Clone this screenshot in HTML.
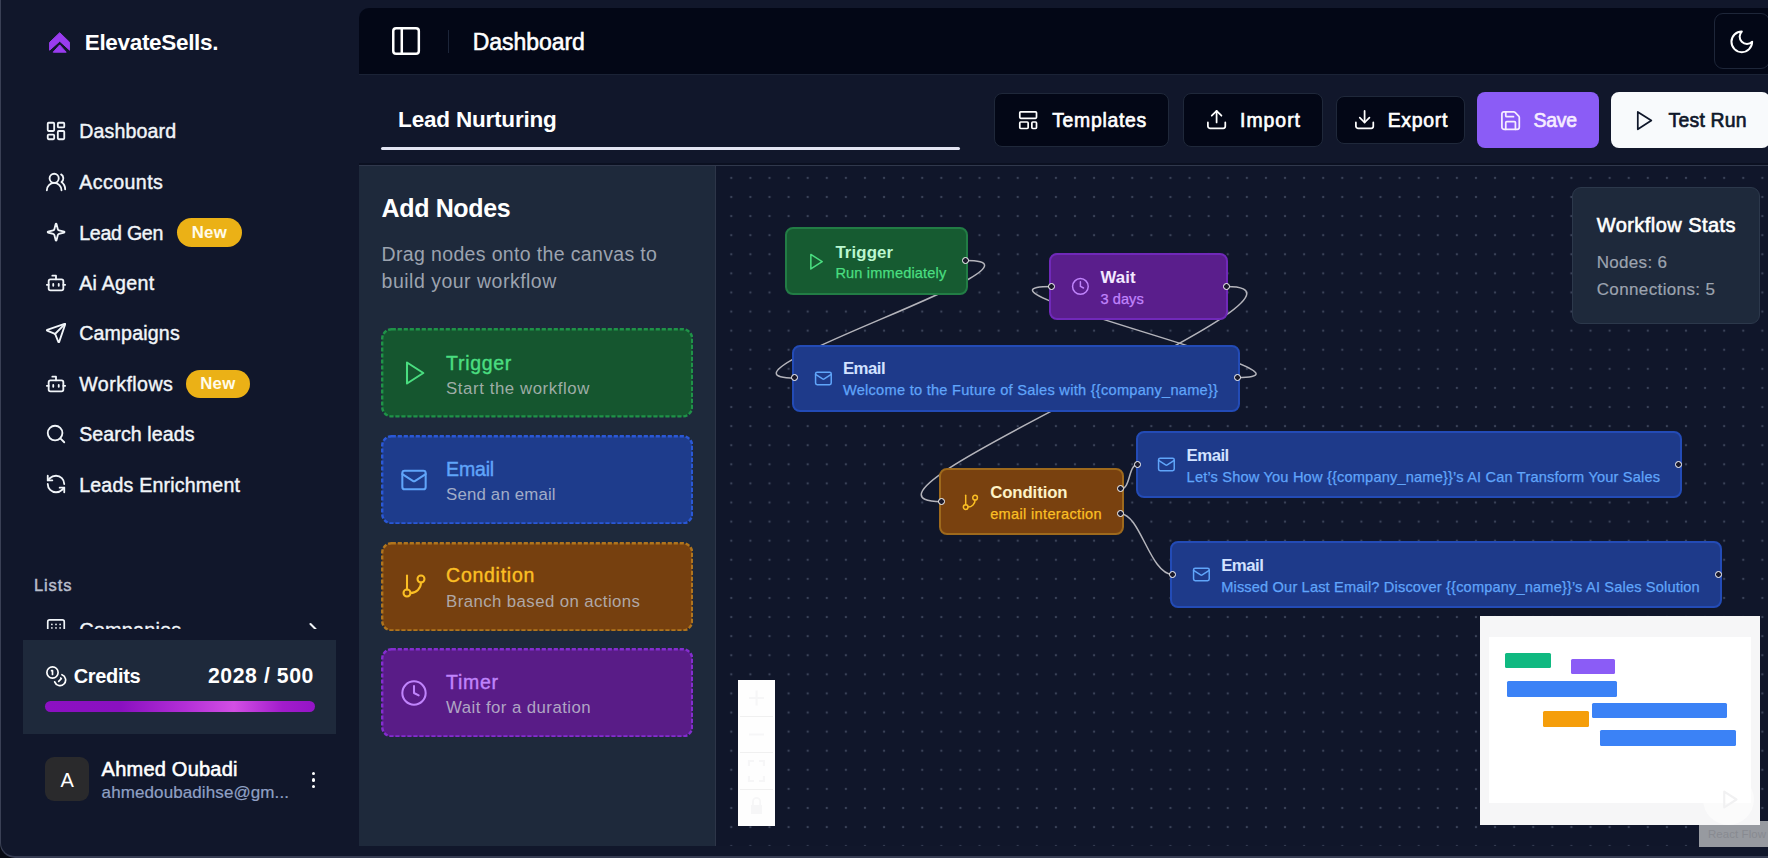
<!DOCTYPE html>
<html><head><meta charset="utf-8"><title>ElevateSells</title>
<style>
html,body{margin:0;padding:0;overflow:hidden}
body{width:1768px;height:858px;overflow:hidden;background:#070a13;font-family:"Liberation Sans", sans-serif;position:relative}
.a{position:absolute}
.t{white-space:pre}
.node{position:absolute;box-sizing:border-box;border-radius:8px;border:2px solid}
.h{position:absolute;width:5px;height:5px;border-radius:50%;background:#1a192b;border:1.6px solid #fff;box-sizing:content-box}
.card{position:absolute;box-sizing:border-box;left:380.8px;width:312.2px;height:88.8px;border-radius:10px;border:2px dashed}
.btn{position:absolute;box-sizing:border-box;border-radius:8px}
</style></head><body>
<div class="a" style="left:0;top:-20px;width:1808px;height:878px;border:1.5px solid #3a4055;border-bottom:2.2px solid #363c52;border-radius:15px;box-sizing:border-box;background:#11172b"></div>
<div class="a" style="left:358.6px;top:8px;width:1500px;height:838.2px;border-radius:10px 0 0 0;background:#11172b;overflow:hidden">
<div class="a" style="left:0;top:0;width:1500px;height:66px;background:#030716;border-bottom:1px solid #1b2336"></div>
<div class="a" style="left:0;top:155.4px;width:1500px;height:1.4px;background:#0b1021"></div>
<div class="a" style="left:0;top:158px;width:356px;height:690px;background:#1e293b;border-right:2px solid #2d3548"></div>
<div class="a" style="left:357.8px;top:158px;width:1200px;height:690px;background-color:#10162a;background-image:radial-gradient(circle,#3a4258 0.7px,transparent 1.6px);background-size:19.1px 19.1px;background-position:5.75px 2.35px"></div>
<div class="a" style="left:0;top:156.8px;width:1500px;height:1.6px;background:#30384c"></div>
</div>
<svg class="a" style="left:48.8px;top:31.6px" width="21.4" height="21.6" viewBox="0 0 21.4 21.6"><path d="M10.7 0.7 L20.7 10.4 L20.7 18.2 L10.7 9.2 L0.6 18.2 L0.6 10.4 Z" fill="#9a3cf0" stroke="#9a3cf0" stroke-width="1" stroke-linejoin="round"/><path d="M10.7 12.9 L17.2 20.2 L4.2 20.2 Z" fill="#9a3cf0" stroke="#9a3cf0" stroke-width="1" stroke-linejoin="round"/></svg>
<svg class="a" style="left:45.20px;top:120.20px;" width="22.00" height="22.00" viewBox="0 0 24 24" fill="none" stroke="#f1f5f9" stroke-width="2.0" stroke-linecap="round" stroke-linejoin="round"><rect width="7" height="9" x="3" y="3" rx="1"/><rect width="7" height="5" x="14" y="3" rx="1"/><rect width="7" height="9" x="14" y="12" rx="1"/><rect width="7" height="5" x="3" y="16" rx="1"/></svg>
<svg class="a" style="left:45.20px;top:170.70px;" width="22.00" height="22.00" viewBox="0 0 24 24" fill="none" stroke="#f1f5f9" stroke-width="2.0" stroke-linecap="round" stroke-linejoin="round"><path d="M18 21a8 8 0 0 0-16 0"/><circle cx="10" cy="8" r="5"/><path d="M22 20c0-3.37-2-6.5-4-8a5 5 0 0 0-.45-8.3"/></svg>
<svg class="a" style="left:46.10px;top:222.30px;" width="20.20" height="20.20" viewBox="0 0 24 24" fill="none" stroke="#f1f5f9" stroke-width="2.1782178217821784" stroke-linecap="round" stroke-linejoin="round"><path d="M9.937 15.5A2 2 0 0 0 8.5 14.063l-6.135-1.582a.5.5 0 0 1 0-.962L8.5 9.936A2 2 0 0 0 9.937 8.5l1.582-6.135a.5.5 0 0 1 .963 0L14.063 8.5A2 2 0 0 0 15.5 9.937l6.135 1.581a.5.5 0 0 1 0 .964L15.5 14.063a2 2 0 0 0-1.437 1.437l-1.582 6.135a.5.5 0 0 1-.963 0z"/></svg>
<svg class="a" style="left:45.20px;top:272.00px;" width="22.00" height="22.00" viewBox="0 0 24 24" fill="none" stroke="#f1f5f9" stroke-width="2.0" stroke-linecap="round" stroke-linejoin="round"><path d="M12 8V4H8"/><rect width="16" height="12" x="4" y="8" rx="2"/><path d="M2 14h2"/><path d="M20 14h2"/><path d="M15 13v2"/><path d="M9 13v2"/></svg>
<svg class="a" style="left:45.20px;top:322.30px;" width="22.00" height="22.00" viewBox="0 0 24 24" fill="none" stroke="#f1f5f9" stroke-width="2.0" stroke-linecap="round" stroke-linejoin="round"><path d="M14.536 21.686a.5.5 0 0 0 .937-.024l6.5-19a.496.496 0 0 0-.635-.635l-19 6.5a.5.5 0 0 0-.024.937l7.93 3.18a2 2 0 0 1 1.112 1.11z"/><path d="m21.854 2.147-10.94 10.939"/></svg>
<svg class="a" style="left:45.20px;top:372.70px;" width="22.00" height="22.00" viewBox="0 0 24 24" fill="none" stroke="#f1f5f9" stroke-width="2.0" stroke-linecap="round" stroke-linejoin="round"><path d="M12 8V4H8"/><rect width="16" height="12" x="4" y="8" rx="2"/><path d="M2 14h2"/><path d="M20 14h2"/><path d="M15 13v2"/><path d="M9 13v2"/></svg>
<svg class="a" style="left:45.20px;top:422.90px;" width="22.00" height="22.00" viewBox="0 0 24 24" fill="none" stroke="#f1f5f9" stroke-width="2.0" stroke-linecap="round" stroke-linejoin="round"><circle cx="11" cy="11" r="8"/><path d="m21 21-4.3-4.3"/></svg>
<svg class="a" style="left:45.20px;top:473.40px;" width="22.00" height="22.00" viewBox="0 0 24 24" fill="none" stroke="#f1f5f9" stroke-width="2.0" stroke-linecap="round" stroke-linejoin="round"><path d="M21 12a9 9 0 0 0-9-9 9.75 9.75 0 0 0-6.74 2.74L3 8"/><path d="M3 3v5h5"/><path d="M3 12a9 9 0 0 0 9 9 9.75 9.75 0 0 0 6.74-2.74L21 16"/><path d="M16 16h5v5"/></svg>
<div class="a" style="left:177.0px;top:218.4px;width:64.9px;height:28.4px;border-radius:15px;background:#ebb116"></div>
<div class="a" style="left:185.5px;top:369.5px;width:64.6px;height:28.4px;border-radius:15px;background:#ebb116"></div>
<div class="a" style="left:0;top:599px;width:340px;height:29.8px;overflow:hidden">
<svg class="a" style="left:302.50px;top:20.00px;" width="20.00" height="20.00" viewBox="0 0 24 24" fill="none" stroke="#f1f5f9" stroke-width="2.5" stroke-linecap="round" stroke-linejoin="round"><path d="m9 18 6-6-6-6"/></svg>
<svg class="a" style="left:45.2px;top:18.8px" width="22" height="22" viewBox="0 0 24 24" fill="none" stroke="#f1f5f9" stroke-width="1.85" stroke-linecap="round"><rect x="3" y="2" width="18" height="20" rx="2"/><path d="M7.5 7h.01M12 7h.01M16.5 7h.01M7.5 10.8h.01M12 10.8h.01M16.5 10.8h.01"/></svg>
<div class="a t" style="left:79.2px;top:17.6px;font-size:20px;line-height:26px;color:#f1f5f9;letter-spacing:0.1px;-webkit-text-stroke:0.3px #f1f5f9">Companies</div>
</div>
<div class="a" style="left:22.8px;top:640px;width:313px;height:94.4px;background:#1e293b"></div>
<svg class="a" style="left:44.60px;top:664.60px;" width="22.50" height="22.50" viewBox="0 0 24 24" fill="none" stroke="#ffffff" stroke-width="1.8" stroke-linecap="round" stroke-linejoin="round"><circle cx="8" cy="8" r="6"/><path d="M18.09 10.37A6 6 0 1 1 10.34 18"/><path d="M7 6h1v4"/><path d="m16.71 13.88.7.71-2.82 2.82"/></svg>
<div class="a" style="left:44.5px;top:701.3px;width:270px;height:11.2px;border-radius:6px;background:linear-gradient(90deg,#8c10c2 0%,#8a10c0 28%,#b32fd6 52%,#d24fe4 70%,#a21ccc 88%,#9414c6 100%)"></div>
<div class="a" style="left:45.1px;top:757.2px;width:44.2px;height:43.8px;border-radius:9px;background:#2a2a2c"></div>
<div class="a" style="left:311.7px;top:771.5px;width:3.8px;height:3.8px;border-radius:50%;background:#fff"></div>
<div class="a" style="left:311.7px;top:778.1px;width:3.8px;height:3.8px;border-radius:50%;background:#fff"></div>
<div class="a" style="left:311.7px;top:784.7px;width:3.8px;height:3.8px;border-radius:50%;background:#fff"></div>
<svg class="a" style="left:389.10px;top:23.75px;" width="34.10" height="34.10" viewBox="0 0 24 24" fill="none" stroke="#ffffff" stroke-width="1.75" stroke-linecap="round" stroke-linejoin="round"><rect width="18" height="18" x="3" y="3" rx="2"/><path d="M9 3v18"/></svg>
<div class="a" style="left:448px;top:29.6px;width:1.2px;height:23px;background:#1c2539"></div>
<div class="btn" style="left:1713.6px;top:13.2px;width:56.4px;height:55.4px;border-radius:9px;border:1.6px solid #1e2639;background:#030716"></div>
<svg class="a" style="left:1728.00px;top:27.60px;" width="27.60" height="27.60" viewBox="0 0 24 24" fill="none" stroke="#ffffff" stroke-width="1.75" stroke-linecap="round" stroke-linejoin="round"><path d="M12 3a6 6 0 0 0 9 9 9 9 0 1 1-9-9Z"/></svg>
<div class="a" style="left:380.6px;top:146.5px;width:579.4px;height:3.6px;background:#e2e4f2;border-radius:2px"></div>
<div class="btn" style="left:994.3px;top:93.3px;width:175.0px;height:53.7px;background:#030716;border:1.3px solid #1f283a"></div>
<div class="btn" style="left:1183.0px;top:93.3px;width:139.7px;height:53.7px;background:#030716;border:1.3px solid #1f283a"></div>
<div class="btn" style="left:1335.5px;top:95.7px;width:129.1px;height:48.6px;background:#030716;border:1.3px solid #1f283a"></div>
<div class="btn" style="left:1477.1px;top:92.2px;width:122.1px;height:56.2px;background:#8b5cf6"></div>
<div class="btn" style="left:1610.7px;top:91.9px;width:159.6px;height:56.6px;background:#f8fafc"></div>
<svg class="a" style="left:1016.95px;top:109.05px;" width="22.30" height="22.30" viewBox="0 0 24 24" fill="none" stroke="#ffffff" stroke-width="1.85" stroke-linecap="round" stroke-linejoin="round"><rect width="18" height="7" x="3" y="3" rx="1"/><rect width="9" height="7" x="3" y="14" rx="1"/><rect width="5" height="7" x="16" y="14" rx="1"/></svg>
<svg class="a" style="left:1204.90px;top:108.40px;" width="23.20" height="23.20" viewBox="0 0 24 24" fill="none" stroke="#ffffff" stroke-width="1.8" stroke-linecap="round" stroke-linejoin="round"><path d="M21 15v4a2 2 0 0 1-2 2H5a2 2 0 0 1-2-2v-4"/><polyline points="17 8 12 3 7 8"/><line x1="12" x2="12" y1="3" y2="15"/></svg>
<svg class="a" style="left:1352.50px;top:108.40px;" width="23.20" height="23.20" viewBox="0 0 24 24" fill="none" stroke="#ffffff" stroke-width="1.8" stroke-linecap="round" stroke-linejoin="round"><path d="M21 15v4a2 2 0 0 1-2 2H5a2 2 0 0 1-2-2v-4"/><polyline points="7 10 12 15 17 10"/><line x1="12" x2="12" y1="15" y2="3"/></svg>
<svg class="a" style="left:1498.90px;top:108.60px;" width="23.20" height="23.20" viewBox="0 0 24 24" fill="none" stroke="#f6ecff" stroke-width="1.8" stroke-linecap="round" stroke-linejoin="round"><path d="M15.2 3a2 2 0 0 1 1.4.6l3.8 3.8a2 2 0 0 1 .6 1.4V19a2 2 0 0 1-2 2H5a2 2 0 0 1-2-2V5a2 2 0 0 1 2-2z"/><path d="M17 21v-7a1 1 0 0 0-1-1H8a1 1 0 0 0-1 1v7"/><path d="M7 3v4a1 1 0 0 0 1 1h7"/></svg>
<svg class="a" style="left:1631.60px;top:108.60px;" width="23.20" height="23.20" viewBox="0 0 24 24" fill="none" stroke="#0f172a" stroke-width="1.8" stroke-linecap="round" stroke-linejoin="round"><polygon points="6 3 20 12 6 21 6 3"/></svg>
<svg class="a" style="left:380.7px;top:328.4px" width="312.4" height="89.6"><rect x="1.2" y="1.2" width="310.0" height="87.2" rx="9.5" fill="#15562f" stroke="#1f9348" stroke-width="2.4" stroke-dasharray="4.2 1.8"/></svg>
<svg class="a" style="left:400.00px;top:359.20px;" width="28.00" height="28.00" viewBox="0 0 24 24" fill="none" stroke="#4ade80" stroke-width="1.75" stroke-linecap="round" stroke-linejoin="round"><polygon points="6 3 20 12 6 21 6 3"/></svg>
<svg class="a" style="left:380.7px;top:434.9px" width="312.4" height="89.6"><rect x="1.2" y="1.2" width="310.0" height="87.2" rx="9.5" fill="#1e3c8c" stroke="#2a58d6" stroke-width="2.4" stroke-dasharray="4.2 1.8"/></svg>
<svg class="a" style="left:400.00px;top:465.70px;" width="28.00" height="28.00" viewBox="0 0 24 24" fill="none" stroke="#60a5fa" stroke-width="1.75" stroke-linecap="round" stroke-linejoin="round"><rect width="20" height="16" x="2" y="4" rx="2"/><path d="m22 7-8.97 5.7a1.94 1.94 0 0 1-2.06 0L2 7"/></svg>
<svg class="a" style="left:380.7px;top:541.5px" width="312.4" height="89.6"><rect x="1.2" y="1.2" width="310.0" height="87.2" rx="9.5" fill="#76400f" stroke="#b0741d" stroke-width="2.4" stroke-dasharray="4.2 1.8"/></svg>
<svg class="a" style="left:400.00px;top:572.30px;" width="28.00" height="28.00" viewBox="0 0 24 24" fill="none" stroke="#fbbf24" stroke-width="1.75" stroke-linecap="round" stroke-linejoin="round"><line x1="6" x2="6" y1="3" y2="15"/><circle cx="18" cy="6" r="3"/><circle cx="6" cy="18" r="3"/><path d="M18 9a9 9 0 0 1-9 9"/></svg>
<svg class="a" style="left:380.7px;top:647.9px" width="312.4" height="89.6"><rect x="1.2" y="1.2" width="310.0" height="87.2" rx="9.5" fill="#591c87" stroke="#842dcf" stroke-width="2.4" stroke-dasharray="4.2 1.8"/></svg>
<svg class="a" style="left:400.00px;top:678.70px;" width="28.00" height="28.00" viewBox="0 0 24 24" fill="none" stroke="#c084fc" stroke-width="1.75" stroke-linecap="round" stroke-linejoin="round"><circle cx="12" cy="12" r="10"/><polyline points="12 6 12 12 16 14"/></svg>
<svg class="a" style="left:0;top:0" width="1768" height="858" viewBox="0 0 1768 858" fill="none" stroke="#b4b4bb" stroke-width="1.5">
<path d="M965.5 260.5 C1072.5 260.5 689.7 378.0 794.7 378.0"/>
<path d="M1237.3 377.6 C1346.3 377.6 940.9000000000001 286.5 1051.9 286.5"/>
<path d="M1226.3 286.5 C1357.3 286.5 810.7 501.7 941.7 501.7"/>
<path d="M1120.9 488.9 C1130.9 488.9 1127.9 464.6 1137.9 464.6"/>
<path d="M1120.9 513.9 C1139.9 513.9 1150.4 574.4 1172.4 574.4"/>
</svg>
<div class="node" style="left:784.7px;top:227.0px;width:183.2px;height:67.6px;background:#165b31;border-color:#227d45"></div>
<div class="node" style="left:1049.3px;top:253.0px;width:179.2px;height:66.7px;background:#5a1e8c;border-color:#7029b9"></div>
<div class="node" style="left:791.8px;top:344.5px;width:448.1px;height:67.2px;background:#1e3a8a;border-color:#234bb6"></div>
<div class="node" style="left:939.1px;top:468.2px;width:184.7px;height:67.2px;background:#79410f;border-color:#9e691c"></div>
<div class="node" style="left:1135.6px;top:431.3px;width:546.2px;height:66.5px;background:#1e3a8a;border-color:#234bb6"></div>
<div class="node" style="left:1170.2px;top:541.3px;width:552.2px;height:66.4px;background:#1e3a8a;border-color:#234bb6"></div>
<svg class="a" style="left:805.70px;top:251.60px;" width="19.40" height="19.40" viewBox="0 0 24 24" fill="none" stroke="#4ade80" stroke-width="1.9" stroke-linecap="round" stroke-linejoin="round"><polygon points="6 3 20 12 6 21 6 3"/></svg>
<svg class="a" style="left:1070.80px;top:277.30px;" width="18.80" height="18.80" viewBox="0 0 24 24" fill="none" stroke="#c084fc" stroke-width="1.9" stroke-linecap="round" stroke-linejoin="round"><circle cx="12" cy="12" r="10"/><polyline points="12 6 12 12 16 14"/></svg>
<svg class="a" style="left:814.00px;top:369.00px;" width="18.80" height="18.80" viewBox="0 0 24 24" fill="none" stroke="#60a5fa" stroke-width="1.9" stroke-linecap="round" stroke-linejoin="round"><rect width="20" height="16" x="2" y="4" rx="2"/><path d="m22 7-8.97 5.7a1.94 1.94 0 0 1-2.06 0L2 7"/></svg>
<svg class="a" style="left:960.80px;top:492.60px;" width="18.80" height="18.80" viewBox="0 0 24 24" fill="none" stroke="#fbbf24" stroke-width="1.9" stroke-linecap="round" stroke-linejoin="round"><line x1="6" x2="6" y1="3" y2="15"/><circle cx="18" cy="6" r="3"/><circle cx="6" cy="18" r="3"/><path d="M18 9a9 9 0 0 1-9 9"/></svg>
<svg class="a" style="left:1157.40px;top:455.20px;" width="18.80" height="18.80" viewBox="0 0 24 24" fill="none" stroke="#60a5fa" stroke-width="1.9" stroke-linecap="round" stroke-linejoin="round"><rect width="20" height="16" x="2" y="4" rx="2"/><path d="m22 7-8.97 5.7a1.94 1.94 0 0 1-2.06 0L2 7"/></svg>
<svg class="a" style="left:1192.00px;top:565.40px;" width="18.80" height="18.80" viewBox="0 0 24 24" fill="none" stroke="#60a5fa" stroke-width="1.9" stroke-linecap="round" stroke-linejoin="round"><rect width="20" height="16" x="2" y="4" rx="2"/><path d="m22 7-8.97 5.7a1.94 1.94 0 0 1-2.06 0L2 7"/></svg>
<div class="h" style="left:961.7px;top:256.7px"></div>
<div class="h" style="left:1048.1px;top:282.7px"></div>
<div class="h" style="left:1222.5px;top:282.7px"></div>
<div class="h" style="left:790.9px;top:374.2px"></div>
<div class="h" style="left:1233.5px;top:373.8px"></div>
<div class="h" style="left:937.9px;top:497.9px"></div>
<div class="h" style="left:1117.1px;top:485.1px"></div>
<div class="h" style="left:1117.1px;top:510.1px"></div>
<div class="h" style="left:1134.1px;top:460.8px"></div>
<div class="h" style="left:1675.4px;top:460.6px"></div>
<div class="h" style="left:1168.6px;top:570.6px"></div>
<div class="h" style="left:1715.3px;top:570.7px"></div>
<div class="a" style="left:1572.4px;top:187.4px;width:187.4px;height:136.2px;box-sizing:border-box;border-radius:9px;background:#1e293b;border:1.3px solid #2c384b"></div>
<div class="a" style="left:737.6px;top:679.9px;width:37.2px;height:146.2px;background:#fefefe"><div class="a" style="left:2px;right:2px;top:36px;height:1px;background:#f0f0f0"></div><div class="a" style="left:2px;right:2px;top:72.5px;height:1px;background:#f0f0f0"></div><div class="a" style="left:2px;right:2px;top:109px;height:1px;background:#f0f0f0"></div><svg class="a" style="left:0;top:0" width="37.2" height="146.2" viewBox="0 0 37.2 146.2" fill="none" stroke="#f6f6f7" stroke-width="2.2"><path d="M11 18h15M18.6 10.5v15M11 54.5h15M11 86v-5h5M26 86v-5h-5M11 96v5h5M26 96v5h-5"/><rect x="13" y="125" width="11" height="9" fill="#f6f6f7" stroke="none"/><path d="M15 125v-3.5a3.6 3.6 0 0 1 7.2 0V125" stroke-width="1.8"/></svg></div>
<div class="a" style="left:1699px;top:821.2px;width:80px;height:25.4px;background:#979aa0"></div>
<div class="a" style="left:1479.7px;top:615.6px;width:280.2px;height:209.6px;background:#f6f6f7"></div>
<div class="a" style="left:1489px;top:636.9px;width:262px;height:166.4px;background:#ffffff"></div>
<div class="a" style="left:1505.3px;top:652.5px;width:45.3px;height:15.6px;background:#10b981;border-radius:1.5px"></div>
<div class="a" style="left:1570.9px;top:658.7px;width:44.0px;height:15.6px;background:#8b5cf6;border-radius:1.5px"></div>
<div class="a" style="left:1507.2px;top:681.2px;width:110.2px;height:15.6px;background:#3b82f6;border-radius:1.5px"></div>
<div class="a" style="left:1543.4px;top:711.2px;width:45.6px;height:16.3px;background:#f59e0b;border-radius:1.5px"></div>
<div class="a" style="left:1591.8px;top:702.5px;width:135.3px;height:15.9px;background:#3b82f6;border-radius:1.5px"></div>
<div class="a" style="left:1600.2px;top:729.6px;width:136.3px;height:16.0px;background:#3b82f6;border-radius:1.5px"></div>
<div class="a" style="left:1703px;top:773.5px;width:51px;height:51px;border-radius:50%;background:rgba(255,255,255,0.5)"></div>
<svg class="a" style="left:1719px;top:788.5px" width="21" height="21" viewBox="0 0 24 24" fill="none" stroke="#f1f1f2" stroke-width="2.4" stroke-linejoin="round"><polygon points="6 3 20 12 6 21 6 3"/></svg>
<div class="a t" style="font-size:22.5px;font-weight:700;color:#ffffff;line-height:29px;top:27.80px;left:84.70px;letter-spacing:-0.316px;">ElevateSells.</div>
<div class="a t" style="font-size:19.6px;font-weight:400;color:#f1f5f9;line-height:25px;top:119.30px;-webkit-text-stroke:0.42px #f1f5f9;left:79.20px;letter-spacing:0.143px;">Dashboard</div>
<div class="a t" style="font-size:19.6px;font-weight:400;color:#f1f5f9;line-height:25px;top:169.80px;-webkit-text-stroke:0.42px #f1f5f9;left:79.20px;letter-spacing:0.442px;">Accounts</div>
<div class="a t" style="font-size:19.6px;font-weight:400;color:#f1f5f9;line-height:25px;top:220.50px;-webkit-text-stroke:0.42px #f1f5f9;left:79.20px;letter-spacing:-0.268px;">Lead Gen</div>
<div class="a t" style="font-size:19.6px;font-weight:400;color:#f1f5f9;line-height:25px;top:271.10px;-webkit-text-stroke:0.42px #f1f5f9;left:79.20px;letter-spacing:0.271px;">Ai Agent</div>
<div class="a t" style="font-size:19.6px;font-weight:400;color:#f1f5f9;line-height:25px;top:321.40px;-webkit-text-stroke:0.42px #f1f5f9;left:79.20px;letter-spacing:0.174px;">Campaigns</div>
<div class="a t" style="font-size:19.6px;font-weight:400;color:#f1f5f9;line-height:25px;top:371.80px;-webkit-text-stroke:0.42px #f1f5f9;left:79.20px;letter-spacing:0.463px;">Workflows</div>
<div class="a t" style="font-size:19.6px;font-weight:400;color:#f1f5f9;line-height:25px;top:422.00px;-webkit-text-stroke:0.42px #f1f5f9;left:79.20px;letter-spacing:0.084px;">Search leads</div>
<div class="a t" style="font-size:19.6px;font-weight:400;color:#f1f5f9;line-height:25px;top:472.50px;-webkit-text-stroke:0.42px #f1f5f9;left:79.20px;letter-spacing:0.191px;">Leads Enrichment</div>
<div class="a t" style="font-size:16.8px;font-weight:700;color:#fffbea;line-height:22px;top:222.30px;left:191.70px;letter-spacing:0.292px;">New</div>
<div class="a t" style="font-size:16.8px;font-weight:700;color:#fffbea;line-height:22px;top:373.40px;left:200.20px;letter-spacing:0.292px;">New</div>
<div class="a t" style="font-size:16.5px;font-weight:400;color:#b9bfcc;line-height:21px;top:574.80px;-webkit-text-stroke:0.45px #b9bfcc;left:34.00px;letter-spacing:0.866px;">Lists</div>
<div class="a t" style="font-size:20px;font-weight:700;color:#ffffff;line-height:26px;top:663.00px;left:73.70px;letter-spacing:-0.318px;">Credits</div>
<div class="a t" style="font-size:21.2px;font-weight:700;color:#ffffff;line-height:28px;top:662.00px;left:208.00px;letter-spacing:0.572px;">2028 / 500</div>
<div class="a t" style="font-size:20px;font-weight:400;color:#ffffff;line-height:26px;top:756.30px;-webkit-text-stroke:0.55px #ffffff;left:101.60px;letter-spacing:0.225px;">Ahmed Oubadi</div>
<div class="a t" style="font-size:17px;font-weight:400;color:#8fa0c4;line-height:22px;top:782.20px;-webkit-text-stroke:0.2px #8fa0c4;left:101.60px;letter-spacing:0.101px;">ahmedoubadihse@gm...</div>
<div class="a t" style="font-size:20px;font-weight:400;color:#ffffff;line-height:26px;top:766.50px;left:60.53px;">A</div>
<div class="a t" style="font-size:23px;font-weight:400;color:#ffffff;line-height:30px;top:26.60px;-webkit-text-stroke:0.55px #ffffff;left:472.80px;letter-spacing:-0.066px;">Dashboard</div>
<div class="a t" style="font-size:22.5px;font-weight:700;color:#ffffff;line-height:29px;top:104.80px;left:398.10px;letter-spacing:-0.196px;">Lead Nurturing</div>
<div class="a t" style="font-size:19.4px;font-weight:400;color:#ffffff;line-height:25px;top:108.40px;-webkit-text-stroke:0.65px #ffffff;left:1052.20px;letter-spacing:0.703px;">Templates</div>
<div class="a t" style="font-size:19.4px;font-weight:400;color:#ffffff;line-height:25px;top:108.40px;-webkit-text-stroke:0.65px #ffffff;left:1240.00px;letter-spacing:1.009px;">Import</div>
<div class="a t" style="font-size:19.4px;font-weight:400;color:#ffffff;line-height:25px;top:108.40px;-webkit-text-stroke:0.65px #ffffff;left:1387.70px;letter-spacing:0.711px;">Export</div>
<div class="a t" style="font-size:19.4px;font-weight:400;color:#f6ecff;line-height:25px;top:108.40px;-webkit-text-stroke:0.65px #f6ecff;left:1533.50px;letter-spacing:-0.201px;">Save</div>
<div class="a t" style="font-size:19.4px;font-weight:400;color:#0f172a;line-height:25px;top:108.40px;-webkit-text-stroke:0.65px #0f172a;left:1668.60px;letter-spacing:0.210px;">Test Run</div>
<div class="a t" style="font-size:25px;font-weight:700;color:#ffffff;line-height:32px;top:192.20px;left:381.60px;letter-spacing:-0.369px;">Add Nodes</div>
<div class="a t" style="font-size:19.5px;font-weight:400;color:#9ca3af;line-height:25px;top:241.50px;left:381.60px;letter-spacing:0.347px;">Drag nodes onto the canvas to</div>
<div class="a t" style="font-size:19.5px;font-weight:400;color:#9ca3af;line-height:25px;top:268.90px;left:381.60px;letter-spacing:0.493px;">build your workflow</div>
<div class="a t" style="font-size:19.5px;font-weight:400;color:#4ade80;line-height:25px;top:350.50px;-webkit-text-stroke:0.4px #4ade80;left:446.10px;letter-spacing:0.676px;">Trigger</div>
<div class="a t" style="font-size:16.8px;font-weight:400;color:#9eada6;line-height:22px;top:377.90px;left:446.10px;letter-spacing:0.578px;">Start the workflow</div>
<div class="a t" style="font-size:19.5px;font-weight:400;color:#60a5fa;line-height:25px;top:456.90px;-webkit-text-stroke:0.4px #60a5fa;left:446.10px;letter-spacing:-0.166px;">Email</div>
<div class="a t" style="font-size:16.8px;font-weight:400;color:#a1acc8;line-height:22px;top:484.30px;left:446.10px;letter-spacing:0.184px;">Send an email</div>
<div class="a t" style="font-size:19.5px;font-weight:400;color:#fbbf24;line-height:25px;top:563.30px;-webkit-text-stroke:0.4px #fbbf24;left:446.10px;letter-spacing:0.726px;">Condition</div>
<div class="a t" style="font-size:16.8px;font-weight:400;color:#b0a8a6;line-height:22px;top:590.70px;left:446.10px;letter-spacing:0.417px;">Branch based on actions</div>
<div class="a t" style="font-size:19.5px;font-weight:400;color:#c084fc;line-height:25px;top:669.70px;-webkit-text-stroke:0.4px #c084fc;left:446.10px;letter-spacing:0.698px;">Timer</div>
<div class="a t" style="font-size:16.8px;font-weight:400;color:#b0a5c4;line-height:22px;top:697.10px;left:446.10px;letter-spacing:0.444px;">Wait for a duration</div>
<div class="a t" style="font-size:16.8px;font-weight:700;color:#bbf7d0;line-height:22px;top:241.50px;left:835.40px;letter-spacing:0.135px;">Trigger</div>
<div class="a t" style="font-size:14.6px;font-weight:400;color:#4ade80;line-height:19px;top:264.20px;-webkit-text-stroke:0.25px #4ade80;left:835.40px;letter-spacing:0.158px;">Run immediately</div>
<div class="a t" style="font-size:16.8px;font-weight:700;color:#f3e8ff;line-height:22px;top:266.60px;left:1100.40px;letter-spacing:0.129px;">Wait</div>
<div class="a t" style="font-size:14.6px;font-weight:400;color:#c084fc;line-height:19px;top:289.50px;-webkit-text-stroke:0.25px #c084fc;left:1100.40px;letter-spacing:0.080px;">3 days</div>
<div class="a t" style="font-size:16.8px;font-weight:700;color:#d2e2ff;line-height:22px;top:358.20px;left:842.90px;letter-spacing:-0.520px;">Email</div>
<div class="a t" style="font-size:14.6px;font-weight:400;color:#60a5fa;line-height:19px;top:381.10px;-webkit-text-stroke:0.25px #60a5fa;left:842.90px;letter-spacing:0.266px;">Welcome to the Future of Sales with {{company_name}}</div>
<div class="a t" style="font-size:16.8px;font-weight:700;color:#fef3c7;line-height:22px;top:482.40px;left:990.20px;letter-spacing:-0.112px;">Condition</div>
<div class="a t" style="font-size:14.6px;font-weight:400;color:#fbbf24;line-height:19px;top:505.20px;-webkit-text-stroke:0.25px #fbbf24;left:990.20px;letter-spacing:0.321px;">email interaction</div>
<div class="a t" style="font-size:16.8px;font-weight:700;color:#d2e2ff;line-height:22px;top:444.90px;left:1186.60px;letter-spacing:-0.520px;">Email</div>
<div class="a t" style="font-size:14.6px;font-weight:400;color:#60a5fa;line-height:19px;top:467.90px;-webkit-text-stroke:0.25px #60a5fa;left:1186.60px;letter-spacing:0.181px;">Let’s Show You How {{company_name}}’s AI Can Transform Your Sales</div>
<div class="a t" style="font-size:16.8px;font-weight:700;color:#d2e2ff;line-height:22px;top:554.90px;left:1221.20px;letter-spacing:-0.520px;">Email</div>
<div class="a t" style="font-size:14.6px;font-weight:400;color:#60a5fa;line-height:19px;top:577.90px;-webkit-text-stroke:0.25px #60a5fa;left:1221.20px;letter-spacing:0.160px;">Missed Our Last Email? Discover {{company_name}}’s AI Sales Solution</div>
<div class="a t" style="font-size:20px;font-weight:400;color:#ffffff;line-height:26px;top:212.30px;-webkit-text-stroke:0.6px #ffffff;left:1596.70px;letter-spacing:0.454px;">Workflow Stats</div>
<div class="a t" style="font-size:17px;font-weight:400;color:#9ca3af;line-height:22px;top:251.50px;-webkit-text-stroke:0.2px #9ca3af;left:1596.70px;letter-spacing:0.322px;">Nodes: 6</div>
<div class="a t" style="font-size:17px;font-weight:400;color:#9ca3af;line-height:22px;top:279.40px;-webkit-text-stroke:0.2px #9ca3af;left:1596.70px;letter-spacing:0.376px;">Connections: 5</div>
<div class="a t" style="font-size:11.5px;font-weight:400;color:#888a91;line-height:15px;top:827.10px;left:1708.00px;letter-spacing:0.052px;">React Flow</div>
</body></html>
